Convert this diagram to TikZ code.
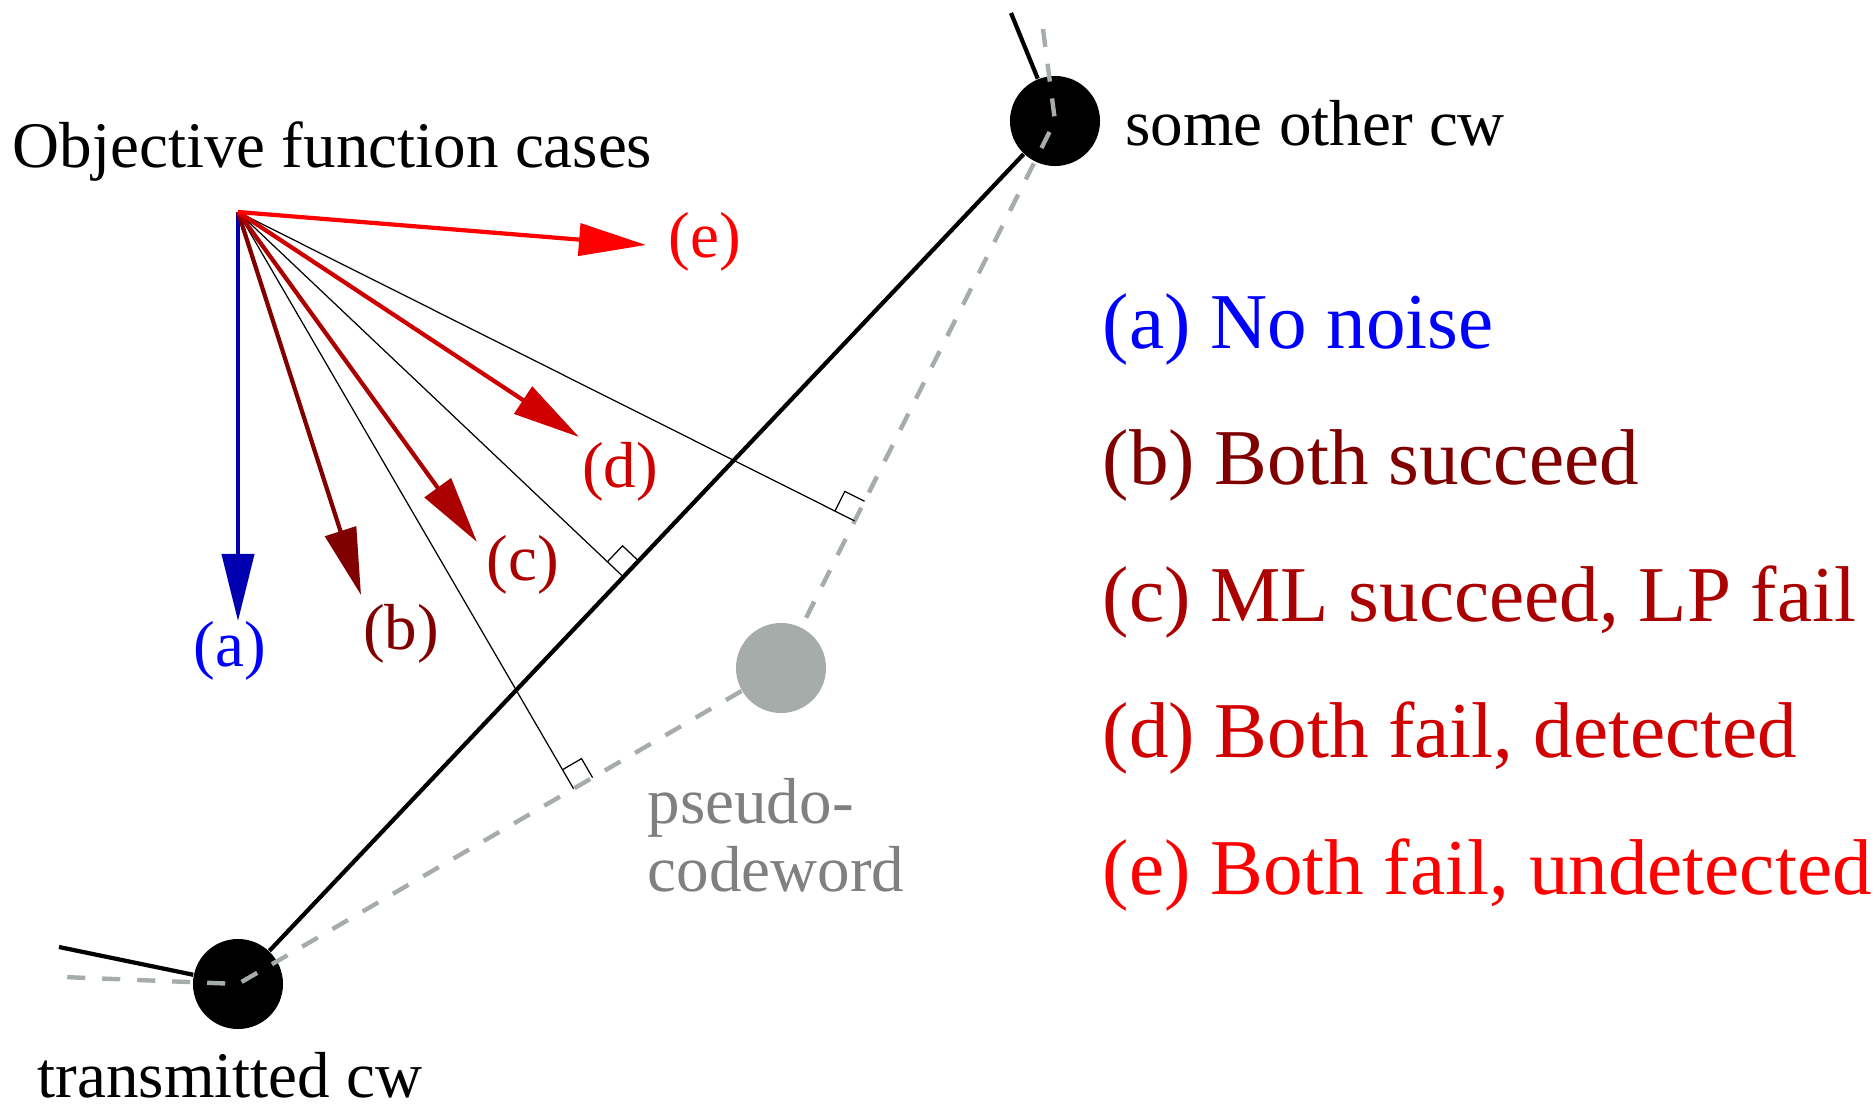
\documentclass[tikz,border=0pt]{standalone}
\usepackage{fontspec}
\setmainfont{Liberation Serif}
\usetikzlibrary{arrows.meta,calc,positioning}

\definecolor{vecA}{RGB}{0,0,176}
\definecolor{txtA}{RGB}{0,0,255}
\definecolor{colB}{RGB}{128,0,0}
\definecolor{colC}{RGB}{170,0,0}
\definecolor{colD}{RGB}{208,0,0}
\definecolor{colE}{RGB}{255,0,0}
\definecolor{pgray}{RGB}{166,172,170}
\definecolor{tgray}{RGB}{128,128,128}

\begin{document}
\begin{tikzpicture}[
    x=0.01cm, y=-0.01cm,
    cw/.style={circle, fill=black, minimum size=0.9cm, inner sep=0pt},
    pcw/.style={circle, fill=pgray, minimum size=0.9cm, inner sep=0pt},
    vec/.style={line width=1.2pt, -{Triangle[length=0.67cm, width=0.32cm]}},
    proj/.style={line width=0.35pt},
    gdash/.style={draw=pgray, line width=1.25pt, dash pattern=on 0.18cm off 0.17cm},
    lbl/.style={font=\fontsize{18.5}{22}\selectfont, inner sep=0pt},
    leg/.style={font=\fontsize{22.5}{27}\selectfont, anchor=base west, inner sep=0pt}
]
    \useasboundingbox (0,0) rectangle (1875,1106);

    % codewords
    \node[cw] (cwA) at (238,984) {};
    \node[cw] (cwB) at (1055,121) {};
    \node[pcw] (ps) at (781,668) {};
    \coordinate (stubA) at (59,947);
    \coordinate (stubB) at (1011,13);
    \coordinate (gA) at (63,977);
    \coordinate (gB) at (1043,29);

    \node[lbl, anchor=base] (tcw) at ([xshift=-0.08cm, yshift=-0.68cm]cwA.south) {transmitted cw};
    \node[lbl, anchor=base west] (ocw) at ([xshift=0.24cm, yshift=-0.24cm]cwB.east) {some other cw};
    \node[lbl, anchor=base west, text=tgray] (pw1) at (647,823) {pseudo-};
    \node[lbl, anchor=base west, text=tgray] (pw2) at ([yshift=-0.68cm]pw1.base west) {codeword};

    % edges
    \draw[line width=1.2pt] (cwA) -- (cwB);
    \draw[line width=1.2pt] (cwA) -- (stubA);
    \draw[line width=1.2pt] (cwB) -- (stubB);
    \draw[gdash] (gB) -- (cwB.center) -- (ps) -- (cwA.center) -- (gA);

    % objective vectors
    \node[lbl, anchor=base west] (title) at (12,167) {Objective function cases};
    \coordinate (orig) at (238,212);
    \coordinate (tipA) at (238,621);
    \coordinate (tipB) at (361,595);
    \coordinate (tipC) at (477,542);
    \coordinate (tipD) at (579,437);
    \coordinate (tipE) at (646,245);

    % projections
    \coordinate (f1) at ($(cwA.center)!(orig)!(ps.center)$);
    \coordinate (f2) at ($(cwA.center)!(orig)!(cwB.center)$);
    \coordinate (f3) at ($(ps.center)!(orig)!(cwB.center)$);
    \draw[proj] (orig) -- (f1);
    \draw[proj] (orig) -- (f2);
    \draw[proj] (orig) -- (f3);
    \draw[proj] ($(f1)!0.22cm!(orig)$) -- ($(f1)!0.22cm!(orig) + (f1)!0.22cm!(ps.center) - (f1)$) -- ($(f1)!0.22cm!(ps.center)$);
    \draw[proj] ($(f2)!0.22cm!(orig)$) -- ($(f2)!0.22cm!(orig) + (f2)!0.22cm!(cwB.center) - (f2)$) -- ($(f2)!0.22cm!(cwB.center)$);
    \draw[proj] ($(f3)!0.22cm!(orig)$) -- ($(f3)!0.22cm!(orig) + (f3)!0.22cm!(cwB.center) - (f3)$) -- ($(f3)!0.22cm!(cwB.center)$);

    \draw[vec, vecA] (orig) -- (tipA);
    \draw[vec, colB] (orig) -- (tipB);
    \draw[vec, colC] (orig) -- (tipC);
    \draw[vec, colD] (orig) -- (tipD);
    \draw[vec, colE] (orig) -- (tipE);

    \node[lbl, text=txtA] (lblA) at (230,651) {(a)};
    \node[lbl, text=colB] (lblB) at (401,634) {(b)};
    \node[lbl, text=colC] (lblC) at (523,565) {(c)};
    \node[lbl, text=colD] (lblD) at (620,472) {(d)};
    \node[lbl, text=colE] (lblE) at (705,242) {(e)};

    % legend
    \node[leg, text=txtA] (la) at (1102,348) {(a) No noise};
    \node[leg, text=colB] (lb) at ([yshift=-1.365cm]la.base west) {(b) Both succeed};
    \node[leg, text=colC] (lc) at ([yshift=-1.365cm]lb.base west) {(c) ML succeed, LP fail};
    \node[leg, text=colD] (ld) at ([yshift=-1.365cm]lc.base west) {(d) Both fail, detected};
    \node[leg, text=colE] (le) at ([yshift=-1.365cm]ld.base west) {(e) Both fail, undetected};
\end{tikzpicture}
\end{document}
